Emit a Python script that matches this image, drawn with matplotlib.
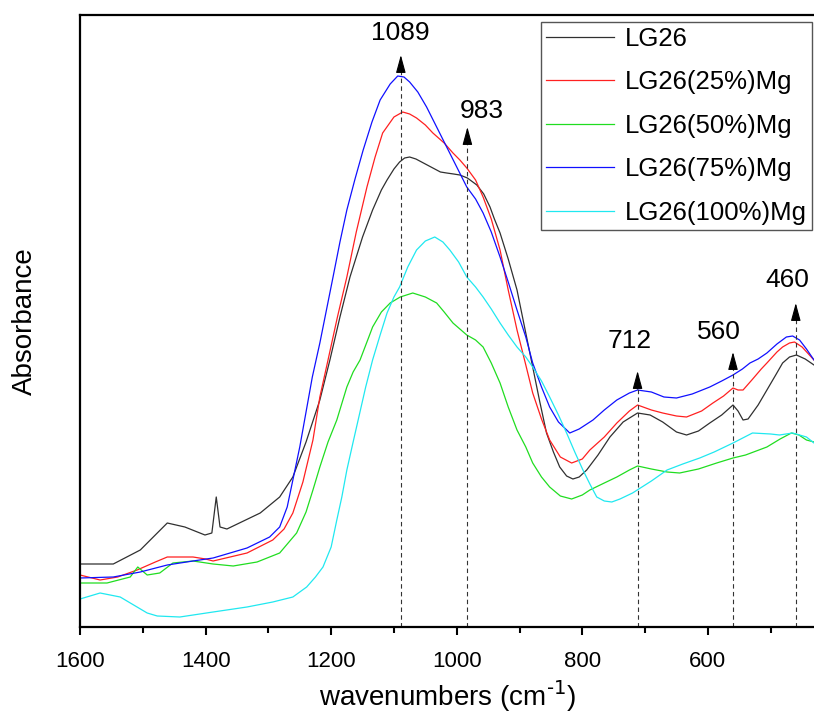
import numpy as np
import matplotlib.pyplot as plt

plt.rcParams['font.family'] = ['Liberation Sans', 'DejaVu Sans']

# LG26
wn_0 = [1600, 1547, 1504, 1461, 1433, 1401, 1390, 1383, 1377, 1366, 1313, 1282, 1261, 1240,
        1218, 1202, 1186, 1170, 1150, 1134, 1120, 1111, 1100, 1091, 1083, 1075, 1065, 1050,
        1038, 1026, 1016, 1005, 995, 983, 968, 957, 947, 940, 931, 918, 904, 892, 879, 868,
        857, 846, 836, 825, 815, 805, 793, 775, 756, 735, 712, 692, 672, 650, 634, 615, 597,
        578, 560, 552, 544, 536, 520, 506, 492, 481, 470, 459, 445, 431]
ab_0 = [0.063, 0.063, 0.077, 0.104, 0.100, 0.092, 0.094, 0.130, 0.100, 0.098, 0.114, 0.130,
        0.150, 0.185, 0.227, 0.267, 0.310, 0.350, 0.390, 0.417, 0.437, 0.447, 0.458, 0.465,
        0.469, 0.470, 0.468, 0.463, 0.459, 0.455, 0.454, 0.453, 0.452, 0.449, 0.442, 0.433,
        0.420, 0.408, 0.394, 0.368, 0.337, 0.300, 0.260, 0.226, 0.194, 0.175, 0.160, 0.151,
        0.148, 0.150, 0.157, 0.172, 0.190, 0.205, 0.214, 0.212, 0.205, 0.195, 0.192, 0.196,
        0.204, 0.212, 0.222, 0.216, 0.207, 0.208, 0.222, 0.237, 0.252, 0.264, 0.270, 0.272,
        0.268, 0.262]

# LG26(25%)Mg
wn_25 = [1600, 1568, 1540, 1509, 1480, 1461, 1420, 1400, 1388, 1334, 1293, 1275, 1261, 1245,
         1229, 1218, 1205, 1190, 1175, 1160, 1143, 1130, 1118, 1100, 1086, 1075, 1064, 1050,
         1038, 1020, 1006, 995, 984, 970, 958, 945, 931, 918, 904, 890, 879, 865, 852, 835,
         817, 800, 788, 765, 745, 725, 712, 690, 672, 650, 634, 610, 592, 575, 560, 552, 544,
         530, 515, 506, 490, 481, 470, 462, 450, 431]
ab_25 = [0.052, 0.047, 0.050, 0.057, 0.065, 0.070, 0.070, 0.068, 0.066, 0.074, 0.087, 0.098,
         0.114, 0.145, 0.187, 0.230, 0.267, 0.310, 0.350, 0.395, 0.440, 0.470, 0.494, 0.510,
         0.515, 0.513, 0.509, 0.502, 0.494, 0.484, 0.474, 0.467, 0.459, 0.447, 0.430, 0.408,
         0.377, 0.337, 0.297, 0.262, 0.234, 0.208, 0.187, 0.170, 0.164, 0.168, 0.177, 0.190,
         0.204, 0.216, 0.222, 0.217, 0.214, 0.211, 0.210, 0.216, 0.224, 0.231, 0.239, 0.237,
         0.237, 0.247, 0.258, 0.264, 0.275, 0.280, 0.284, 0.285, 0.280, 0.267]

# LG26(50%)Mg
wn_50 = [1600, 1557, 1520, 1508, 1493, 1473, 1452, 1420, 1388, 1356, 1318, 1282, 1255, 1240,
         1229, 1218, 1205, 1191, 1175, 1165, 1154, 1140, 1134, 1120, 1106, 1090, 1070, 1050,
         1032, 1020, 1006, 995, 984, 970, 958, 945, 931, 918, 904, 890, 879, 865, 852, 835,
         817, 800, 788, 765, 745, 725, 712, 690, 665, 645, 615, 586, 560, 540, 506, 485, 467,
         455, 443, 431]
ab_50 = [0.044, 0.044, 0.050, 0.060, 0.052, 0.054, 0.064, 0.066, 0.063, 0.061, 0.065, 0.074,
         0.094, 0.115, 0.137, 0.160, 0.185, 0.207, 0.240, 0.255, 0.267, 0.290, 0.300, 0.315,
         0.324, 0.330, 0.334, 0.330, 0.324, 0.315, 0.304, 0.298, 0.292, 0.287, 0.280, 0.264,
         0.244, 0.220, 0.197, 0.180, 0.164, 0.150, 0.140, 0.131, 0.128, 0.132, 0.137, 0.144,
         0.150, 0.157, 0.161, 0.158, 0.155, 0.154, 0.158, 0.164, 0.169, 0.172, 0.180, 0.188,
         0.194, 0.192, 0.187, 0.185]

# LG26(75%)Mg
wn_75 = [1600, 1547, 1504, 1461, 1420, 1388, 1334, 1298, 1282, 1270, 1250, 1240, 1230, 1218,
         1197, 1186, 1175, 1162, 1149, 1135, 1122, 1106, 1094, 1084, 1075, 1062, 1048, 1032,
         1016, 1000, 984, 970, 958, 945, 931, 918, 904, 890, 879, 865, 852, 838, 820, 805,
         783, 765, 745, 725, 712, 690, 670, 650, 625, 597, 578, 560, 545, 533, 520, 506, 490,
         475, 465, 454, 443, 431]
ab_75 = [0.049, 0.050, 0.055, 0.062, 0.066, 0.069, 0.079, 0.090, 0.100, 0.120, 0.180, 0.215,
         0.250, 0.284, 0.350, 0.385, 0.417, 0.448, 0.477, 0.505, 0.527, 0.543, 0.551, 0.550,
         0.545, 0.535, 0.520, 0.500, 0.480, 0.460, 0.440, 0.428, 0.414, 0.395, 0.370, 0.345,
         0.317, 0.290, 0.264, 0.240, 0.220, 0.205, 0.194, 0.198, 0.207, 0.217, 0.227, 0.234,
         0.237, 0.235, 0.230, 0.229, 0.233, 0.240, 0.246, 0.252, 0.258, 0.264, 0.268, 0.274,
         0.283, 0.290, 0.291, 0.287, 0.278, 0.267]

# LG26(100%)Mg
wn_100 = [1600, 1568, 1536, 1493, 1477, 1441, 1388, 1334, 1293, 1261, 1239, 1225, 1213, 1200,
          1191, 1183, 1175, 1165, 1157, 1145, 1134, 1122, 1111, 1100, 1091, 1078, 1064, 1050,
          1035, 1022, 1011, 997, 984, 970, 958, 945, 931, 918, 904, 890, 879, 865, 852, 838,
          825, 812, 799, 788, 777, 765, 753, 740, 720, 690, 665, 640, 613, 590, 560, 529, 500,
          486, 465, 443, 431]
ab_100 = [0.028, 0.034, 0.030, 0.014, 0.011, 0.010, 0.015, 0.020, 0.025, 0.030, 0.040, 0.050,
          0.060, 0.080, 0.107, 0.130, 0.157, 0.185, 0.207, 0.240, 0.267, 0.292, 0.314, 0.330,
          0.340, 0.360, 0.377, 0.386, 0.390, 0.385, 0.377, 0.365, 0.350, 0.340, 0.330, 0.318,
          0.304, 0.292, 0.280, 0.270, 0.260, 0.246, 0.230, 0.212, 0.194, 0.175, 0.157, 0.143,
          0.130, 0.126, 0.125, 0.128, 0.134, 0.146, 0.157, 0.163, 0.169, 0.175, 0.184, 0.194,
          0.193, 0.192, 0.194, 0.190, 0.184]

names = ['LG26', 'LG26(25%)Mg', 'LG26(50%)Mg', 'LG26(75%)Mg', 'LG26(100%)Mg']
colors = ['#303030', '#ff2020', '#20dd20', '#1010ff', '#20e8f0']

# peak marks: position, label text x, label y, arrow tip, arrow base
peaks = [1089, 983, 712, 560, 460]
peak_lab_x = [1090, 960, 724, 583, 473]
peak_lab_y = [0.594, 0.516, 0.286, 0.295, 0.347]
peak_tip = [0.572, 0.500, 0.256, 0.275, 0.324]
peak_base = [0.557, 0.485, 0.240, 0.260, 0.310]

fig = plt.figure(figsize=(8.14, 7.16), dpi=100)
ax = fig.add_axes([80/814, 89/716, 734/814, 612/716])

series = [(wn_0, ab_0), (wn_25, ab_25), (wn_50, ab_50), (wn_75, ab_75), (wn_100, ab_100)]
for (w, a), n, c in zip(series, names, colors):
    ax.plot(w, a, color=c, lw=0.9, label=n)

for p, lx, ly, tip, base in zip(peaks, peak_lab_x, peak_lab_y, peak_tip, peak_base):
    ax.plot([p, p], [0, base], color='#333333', lw=0.8, dashes=(4, 3))
    ax.annotate('', xy=(p, tip), xytext=(p, base - 0.002),
                arrowprops=dict(arrowstyle='-|>,head_length=1.1,head_width=0.3',
                                color='black', lw=0.8, shrinkA=0, shrinkB=0))
    ax.text(lx, ly, str(p), ha='center', va='center', fontsize=19)

ax.set_xlim(1600, 431)
ax.set_ylim(0, 0.612)
ax.set_xticks([1600, 1400, 1200, 1000, 800, 600])
ax.set_xticks(np.arange(1500, 430, -200), minor=True)
ax.set_yticks([])
ax.tick_params(axis='x', which='major', length=6, width=1.5, labelsize=16, pad=11)
ax.tick_params(axis='x', which='minor', length=4, width=1.5)
for s in ['left', 'bottom', 'top']:
    ax.spines[s].set_linewidth(1.6)
ax.spines['right'].set_visible(False)

ax.set_xlabel('wavenumbers (cm$^{\\text{-1}}$)', fontsize=20, labelpad=5)
ax.set_ylabel('Absorbance', fontsize=20, labelpad=30)

leg = ax.legend(loc='upper right', bbox_to_anchor=(0.997, 0.989), fontsize=18.5,
                handlelength=2.65, handletextpad=0.4, labelspacing=0.76,
                borderpad=0.2, borderaxespad=0, fancybox=False, framealpha=1)
leg.get_frame().set_edgecolor('#555555')
leg.get_frame().set_linewidth(1.0)

fig.savefig('out.png', dpi=100)
